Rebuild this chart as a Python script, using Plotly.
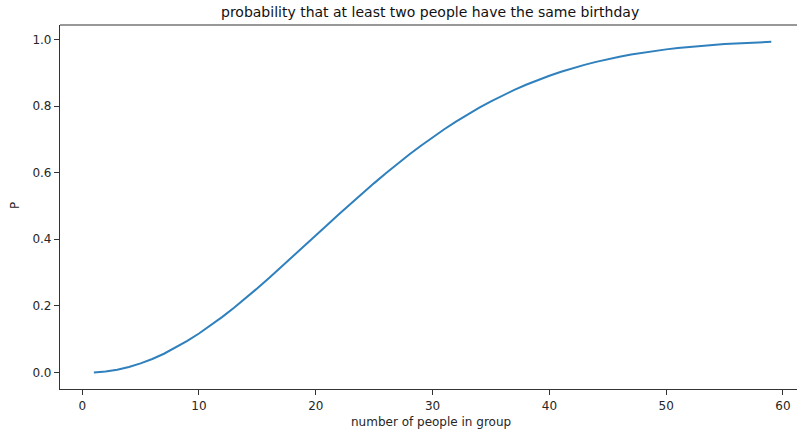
import plotly.graph_objects as go

group_size = list(range(1, 60))
probability = [
    0.00000, 0.00274, 0.00820, 0.01636, 0.02714, 0.04046, 0.05624, 0.07434, 0.09462, 0.11695,
    0.14114, 0.16702, 0.19441, 0.22310, 0.25290, 0.28360, 0.31501, 0.34691, 0.37912, 0.41144,
    0.44369, 0.47570, 0.50730, 0.53834, 0.56870, 0.59824, 0.62686, 0.65446, 0.68097, 0.70632,
    0.73045, 0.75335, 0.77497, 0.79532, 0.81438, 0.83218, 0.84873, 0.86407, 0.87822, 0.89123,
    0.90315, 0.91403, 0.92392, 0.93289, 0.94098, 0.94825, 0.95477, 0.96060, 0.96578, 0.97037,
    0.97443, 0.97800, 0.98114, 0.98388, 0.98626, 0.98833, 0.99012, 0.99166, 0.99299,
]
x_ticks = [0, 10, 20, 30, 40, 50, 60]
y_ticks = [0.0, 0.2, 0.4, 0.6, 0.8, 1.0]
y_tick_labels = ["0.0", "0.2", "0.4", "0.6", "0.8", "1.0"]

W, H = 797, 436
L, R, T, B = 60, 0, 25, 47
pw, ph = W - L - R, H - T - B

def px_x(p):
    return (p - L) / pw

def px_y(p):
    return (H - B - p) / ph

font = "DejaVu Sans"
tc = "#262626"

fig = go.Figure(go.Scatter(
    x=group_size, y=probability, mode="lines",
    line=dict(color="#2f80bd", width=2), hoverinfo="skip",
))

fig.update_layout(
    width=W, height=H,
    margin=dict(l=L, r=R, t=T, b=B),
    paper_bgcolor="white", plot_bgcolor="white",
    showlegend=False,
    font=dict(family=font, size=12, color=tc),
    xaxis=dict(
        range=[-1.9, 61.2], tickvals=x_ticks, ticks="outside", ticklen=5,
        tickcolor="#333", showline=True, linecolor="#333", linewidth=1.2,
        showgrid=False, zeroline=False, tickfont=dict(size=12, color=tc),
    ),
    yaxis=dict(
        range=[-0.0497, 1.0436], tickvals=y_ticks, ticktext=y_tick_labels,
        ticks="outside", ticklen=5, tickcolor="#333", showline=True,
        linecolor="#333", linewidth=1.2, showgrid=False, zeroline=False,
        tickfont=dict(size=12, color=tc),
    ),
    shapes=[dict(type="line", xref="paper", yref="paper", x0=0, x1=1,
                 y0=1, y1=1, line=dict(color="#333", width=1.2))],
    annotations=[
        dict(text="probability that at least two people have the same birthday",
             xref="paper", yref="paper", x=px_x(430), y=px_y(12),
             xanchor="center", yanchor="middle", showarrow=False,
             font=dict(size=14, color="#111", family=font)),
        dict(text="number of people in group", xref="paper", yref="paper",
             x=px_x(431), y=px_y(422), xanchor="center", yanchor="middle",
             showarrow=False, font=dict(size=12, color=tc, family=font)),
        dict(text="P", xref="paper", yref="paper", x=px_x(15), y=px_y(206),
             xanchor="center", yanchor="middle", textangle=-90,
             showarrow=False, font=dict(size=12, color=tc, family=font)),
    ],
)

fig.write_html("out.html")
